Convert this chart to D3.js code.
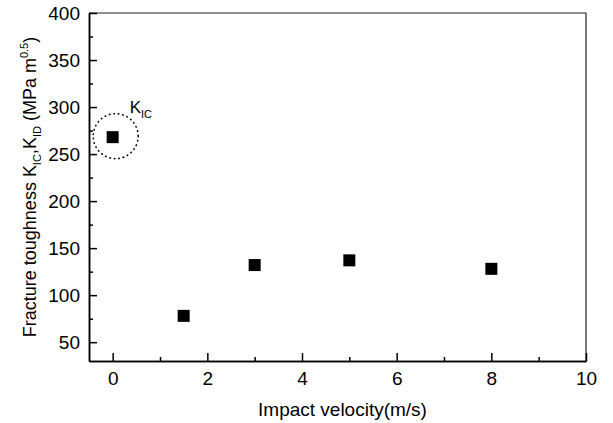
<!DOCTYPE html>
<html lang="en">
<head>
  <meta charset="UTF-8" />
  <title>Fracture toughness vs impact velocity</title>
  <script src="https://d3js.org/d3.v7.min.js"></script>
  <style>
    body { margin: 0; background: #fff; font-family: "Liberation Sans", Arial, sans-serif; }
    .axis path, .axis line { stroke: #000; stroke-width: 1.5; }
    .axis text { font-family: "Liberation Sans", Arial, sans-serif; font-size: 19px; fill: #000; }
  </style>
</head>
<body>
<div id="chart"></div>
<script>
  // data
  const velocity = [0, 1.5, 3, 5, 8];
  const toughness = [268, 78, 132, 137, 128];
  const xTicks = [0, 2, 4, 6, 8, 10];
  const xMinor = [1, 3, 5, 7, 9];
  const yTicks = [50, 100, 150, 200, 250, 300, 350, 400];
  const yMinor = [75, 125, 175, 225, 275, 325, 375];

  const width = 613, height = 423;
  const plotLeft = 89, plotRight = 586, plotTop = 13, plotBottom = 361;

  const svg = d3.select("#chart").append("svg")
    .attr("width", width)
    .attr("height", height);

  const x = d3.scaleLinear().domain([-0.5, 10]).range([plotLeft, plotRight]);
  const y = d3.scaleLinear().domain([30, 400]).range([plotBottom, plotTop]);

  // frame (top and right)
  svg.append("path")
    .attr("d", `M${plotLeft},${plotTop}H${plotRight}V${plotBottom}`)
    .attr("fill", "none")
    .attr("stroke", "#222")
    .attr("stroke-width", 1.2);

  // minor ticks
  svg.append("g").attr("class", "axis")
    .attr("transform", `translate(0,${plotBottom})`)
    .call(d3.axisBottom(x).tickValues(xMinor).tickSizeInner(-4).tickSizeOuter(0).tickFormat(""));
  svg.append("g").attr("class", "axis")
    .attr("transform", `translate(${plotLeft},0)`)
    .call(d3.axisLeft(y).tickValues(yMinor).tickSizeInner(-4).tickSizeOuter(0).tickFormat(""));

  // major axes
  svg.append("g").attr("class", "axis")
    .attr("transform", `translate(0,${plotBottom})`)
    .call(d3.axisBottom(x).tickValues(xTicks).tickSizeInner(-8).tickSizeOuter(0).tickPadding(11));
  svg.append("g").attr("class", "axis")
    .attr("transform", `translate(${plotLeft},0)`)
    .call(d3.axisLeft(y).tickValues(yTicks).tickSizeInner(-8).tickSizeOuter(0).tickPadding(9));

  // points
  const pts = velocity.map((v, i) => ({ v: v, k: toughness[i] }));
  svg.selectAll("rect.pt").data(pts).enter().append("rect")
    .attr("class", "pt")
    .attr("x", d => x(d.v) - 6)
    .attr("y", d => y(d.k) - 6)
    .attr("width", 12)
    .attr("height", 12)
    .attr("fill", "#000");

  // dotted circle around the static value
  svg.append("circle")
    .attr("cx", x(0) + 3)
    .attr("cy", y(268) - 1)
    .attr("r", 22.5)
    .attr("fill", "none")
    .attr("stroke", "#000")
    .attr("stroke-width", 1.6)
    .attr("stroke-linecap", "round")
    .attr("stroke-dasharray", "0.5,4");

  // K_IC annotation
  const ann = svg.append("text")
    .attr("x", x(0) + 17)
    .attr("y", y(268) - 24)
    .attr("font-size", 17)
    .attr("font-family", "Liberation Sans, Arial, sans-serif");
  ann.append("tspan").text("K");
  ann.append("tspan").attr("font-size", 11).attr("dy", 5).text("IC");

  // axis titles
  svg.append("text")
    .attr("x", (plotLeft + plotRight) / 2 + 5)
    .attr("y", 416)
    .attr("text-anchor", "middle")
    .attr("font-size", 19)
    .attr("font-family", "Liberation Sans, Arial, sans-serif")
    .text("Impact velocity(m/s)");

  const yt = svg.append("text")
    .attr("transform", `translate(36,${(plotTop + plotBottom) / 2}) rotate(-90)`)
    .attr("text-anchor", "middle")
    .attr("font-size", 18)
    .attr("font-family", "Liberation Sans, Arial, sans-serif");
  yt.append("tspan").text("Fracture toughness K");
  yt.append("tspan").attr("font-size", 11).attr("dy", 5).text("IC");
  yt.append("tspan").attr("dy", -5).text(",K");
  yt.append("tspan").attr("font-size", 11).attr("dy", 5).text("ID");
  yt.append("tspan").attr("dy", -5).text(" (MPa m");
  yt.append("tspan").attr("font-size", 11).attr("dy", -8).text("0.5");
  yt.append("tspan").attr("dy", 8).text(")");
</script>
</body>
</html>
